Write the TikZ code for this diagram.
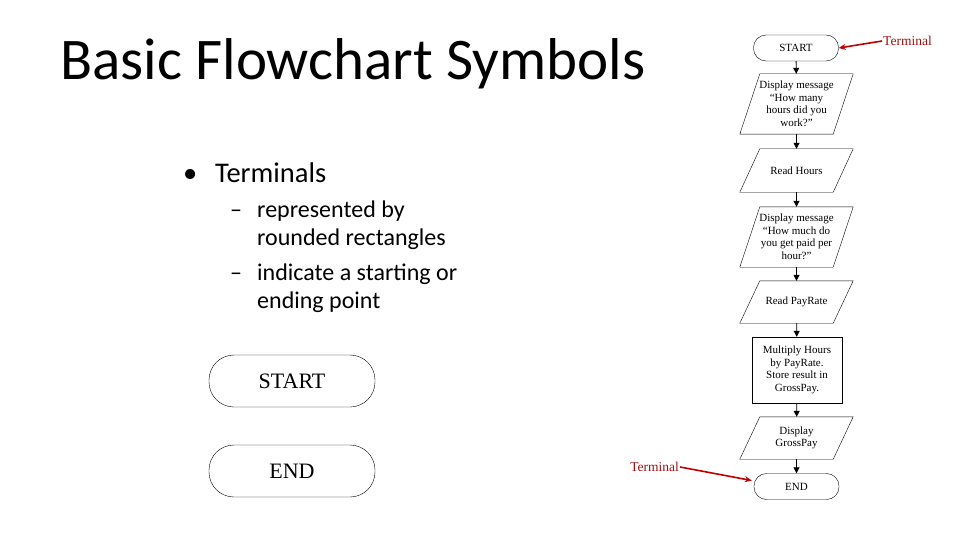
\documentclass[tikz,border=0pt]{standalone}
\usepackage{fontspec}
\setmainfont{Liberation Serif}
\newfontfamily\calfnt{Carlito}
\usetikzlibrary{arrows.meta,calc}
\definecolor{dred}{HTML}{C00000}
\definecolor{tred}{HTML}{A01010}
\tikzset{
  fc/.style={font=\fontsize{11}{12.5}\selectfont, align=center, inner sep=0pt},
  term/.style={fc, draw, rounded corners=12.5, minimum width=85, minimum height=26},
  para/.style={fc, minimum width=113},
  proc/.style={fc, draw, minimum width=90, minimum height=66},
  flow/.style={-{Triangle[length=6,width=6]}, thick},
  big/.style={draw, rounded corners=25, minimum width=166, minimum height=52, font=\fontsize{22}{24}\selectfont},
  lab/.style={font=\fontsize{13.5}{15}\selectfont, text=tred, inner sep=1pt},
  redarr/.style={-{Stealth[length=7,width=6]}, dred, line width=1.6},
  txt/.style={font=\calfnt\fontsize{24}{28}\selectfont, anchor=west, inner sep=0pt}
}
\newcommand{\parashape}[1]{\draw ($( #1.north west)+(20,0)$) -- (#1.north east) -- ($(#1.south east)-(20,0)$) -- (#1.south west) -- cycle;}
\begin{document}
\begin{tikzpicture}[x=1pt,y=-1pt]
\useasboundingbox (0,0) rectangle (960,540);
\node[anchor=west, inner sep=0pt, font=\calfnt\fontsize{59}{62}\selectfont] (title) at (60,64) {Basic Flowchart Symbols};
\node[txt, font=\calfnt\fontsize{28.5}{32}\selectfont] (b1) at (183,173) {\makebox[32pt][l]{\textbullet}Terminals};
\node[txt] (d1) at (230,211) {\makebox[27pt][l]{–}represented by};
\node[txt] (d1b) at (257,239) {rounded rectangles};
\node[txt] (d2) at (230,274) {\makebox[27pt][l]{–}indicate a starting or};
\node[txt] (d2b) at (257,302) {ending point};
\node[big] (bs) at (292,381) {START};
\node[big] (be) at (292,471) {END};

\node[term] (s) at (796,48) {START};
\node[para, minimum height=60] (p1) at (796.5,104) {Display message\\``How many\\hours did you\\work?''};
\node[para, minimum height=43] (p2) at (796.5,170.5) {Read Hours};
\node[para, minimum height=60] (p3) at (796.5,237) {Display message\\``How much do\\you get paid per\\hour?''};
\node[para, minimum height=42] (p4) at (796.5,302) {Read PayRate};
\node[proc] (pr) at (797,370) {Multiply Hours\\by PayRate.\\Store result in\\GrossPay.};
\node[para, minimum height=42] (p5) at (796.5,438) {Display\\GrossPay};
\node[term] (e) at (796.5,486.5) {END};
\parashape{p1}\parashape{p2}\parashape{p3}\parashape{p4}\parashape{p5}
\draw[flow] (s) -- (p1);
\draw[flow] (p1) -- (p2);
\draw[flow] (p2) -- (p3);
\draw[flow] (p3) -- (p4);
\draw[flow] (p4) -- (pr);
\draw[flow] (pr) -- (p5);
\draw[flow] (p5) -- (e);

\node[lab, anchor=west] (t1) at (882,41) {Terminal};
\node[lab, anchor=east] (t2) at (680,467) {Terminal};
\draw[redarr] (t1.west) -- (s.east);
\draw[redarr] (t2.east) -- ($(e.west)+(-2,-6)$);
\end{tikzpicture}
\end{document}
